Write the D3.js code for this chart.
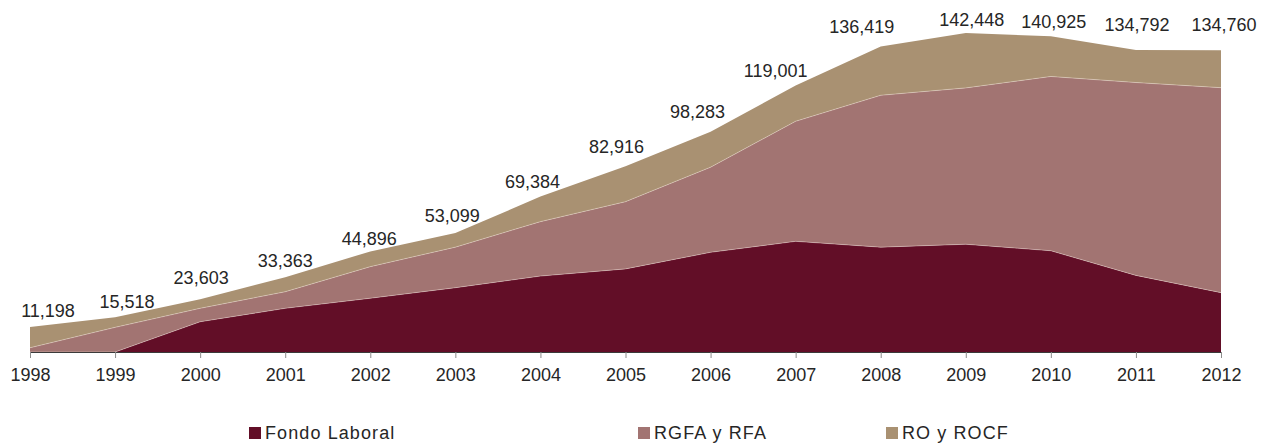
<!DOCTYPE html>
<html>
<head>
<meta charset="utf-8">
<script src="https://cdn.jsdelivr.net/npm/d3@7"></script>
<style>
  html, body { margin: 0; padding: 0; background: #fff; }
  svg { display: block; }
  text { font-family: "Liberation Sans", Arial, Helvetica, sans-serif; fill: #262626; }
</style>
</head>
<body>
<svg id="chart" width="1261" height="443"></svg>
<script>
// Years on the x axis
const years = [1998, 1999, 2000, 2001, 2002, 2003, 2004, 2005, 2006, 2007, 2008, 2009, 2010, 2011, 2012];

// Stacked series (bottom to top)
const fondoLaboral = [0, 0, 13500, 19500, 24000, 28700, 33900, 37100, 44500, 49400, 46800, 48100, 45200, 34200, 26500];
const rgfaRfa      = [1900, 11000, 6000, 7400, 14100, 18100, 24300, 30000, 38000, 53600, 67800, 69800, 77800, 86100, 91500];
const roRocf       = [9298, 4518, 4103, 6463, 6796, 6299, 11184, 15816, 15783, 16001, 21819, 24548, 17925, 14492, 16760];

// Totals printed above each year
const totals = [11198, 15518, 23603, 33363, 44896, 53099, 69384, 82916, 98283, 119001, 136419, 142448, 140925, 134792, 134760];

const seriesNames  = ["Fondo Laboral", "RGFA y RFA", "RO y ROCF"];
const seriesColors = ["#620E27", "#A27472", "#A99172"];

// Label nudges (dx, dy from the top of the stack to the label centre)
const labelDx = [18, 12, 1, 0, -1, -3, -8, -9, -13, -20, -19, 6, 3, 1, 3];
const labelDy = [-16, -16, -22, -17, -13, -18, -15, -20, -20, -15, -20, -13, -15, -26, -26];

const svg = d3.select("#chart");

const x = d3.scaleLinear().domain([1998, 2012]).range([30, 1221]);
const y = d3.scaleLinear().domain([0, 150000]).range([352, 16]);

const table = years.map((yr, i) => ({
  year: yr,
  "Fondo Laboral": fondoLaboral[i],
  "RGFA y RFA": rgfaRfa[i],
  "RO y ROCF": roRocf[i]
}));

const stacked = d3.stack().keys(seriesNames)(table);

const area = d3.area()
  .x(d => x(d.data.year))
  .y0(d => y(d[0]))
  .y1(d => y(d[1]));

svg.append("g")
  .selectAll("path")
  .data(stacked)
  .join("path")
  .attr("d", area)
  .attr("fill", (d, i) => seriesColors[i]);

// faint light seams between layers
const seam = d3.line()
  .x(d => x(d.data.year))
  .y(d => y(d[1]));
svg.append("g")
  .selectAll("path")
  .data(stacked.slice(0, 2))
  .join("path")
  .attr("d", seam)
  .attr("fill", "none")
  .attr("stroke", "rgba(255,240,230,0.45)")
  .attr("stroke-width", 0.8);

// x axis
const axis = svg.append("g").attr("transform", "translate(0,352)")
  .call(d3.axisBottom(x).tickValues(years).tickFormat(d3.format("d")).tickSize(6).tickPadding(10));
axis.select(".domain").attr("stroke", "#3a3a3a").attr("stroke-width", 1);
axis.selectAll(".tick line").attr("stroke", "#8c8c8c");
axis.selectAll(".tick text")
  .attr("font-size", 18)
  .attr("fill", "#262626")
  .style("font-family", "'Liberation Sans', Arial, sans-serif");

// total labels
svg.append("g")
  .selectAll("text")
  .data(totals)
  .join("text")
  .attr("x", (d, i) => x(years[i]) + labelDx[i])
  .attr("y", (d, i) => y(d) + labelDy[i] + 6.5)
  .attr("text-anchor", "middle")
  .attr("font-size", 18)
  .text(d => d3.format(",")(d));

// legend
const legendX = [249, 638, 886];
const legend = svg.append("g");
seriesNames.forEach((name, i) => {
  legend.append("rect")
    .attr("x", legendX[i]).attr("y", 427)
    .attr("width", 12).attr("height", 12)
    .attr("fill", seriesColors[i]);
  legend.append("text")
    .attr("x", legendX[i] + 16).attr("y", 439)
    .attr("font-size", 18)
    .attr("letter-spacing", 1.1)
    .text(name);
});
</script>
</body>
</html>
